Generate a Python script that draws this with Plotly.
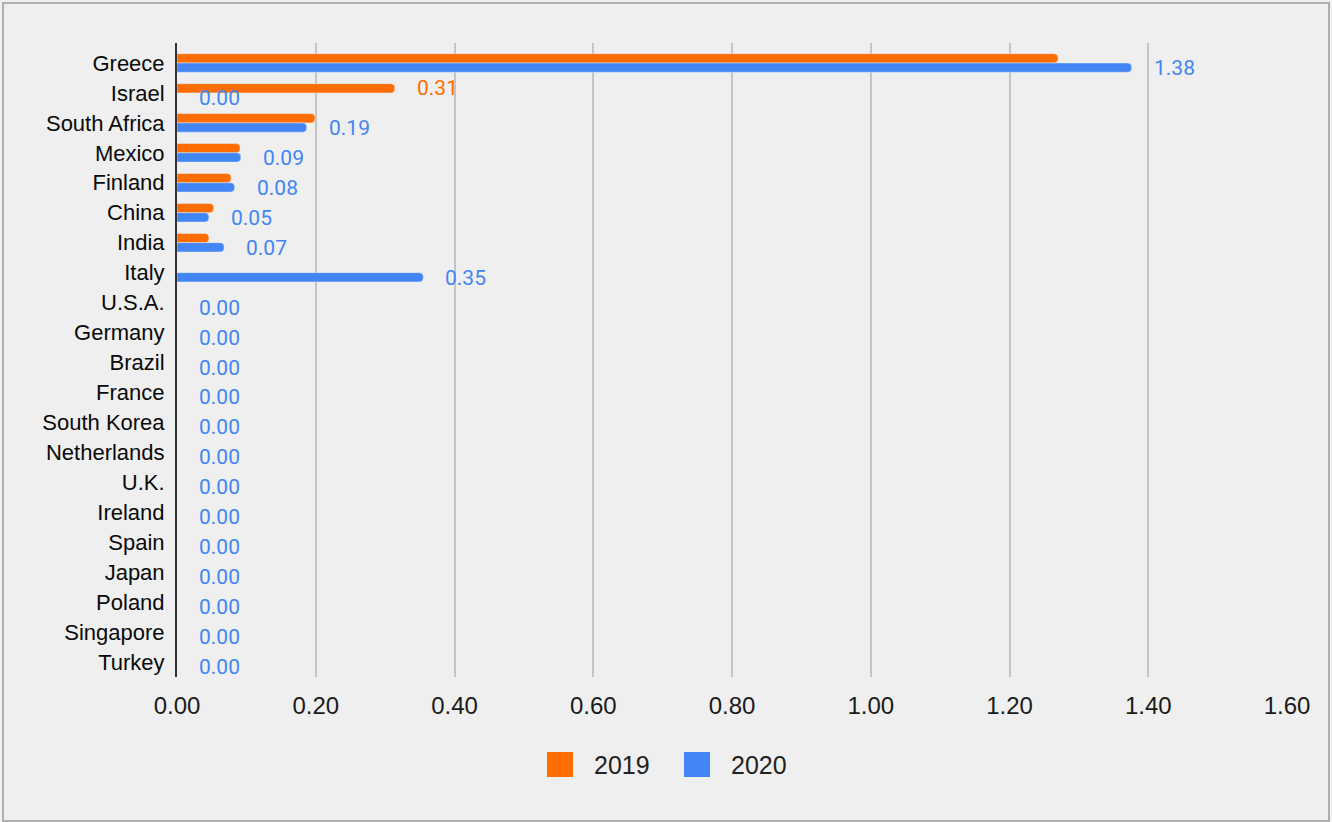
import plotly.graph_objects as go

countries = ["Greece", "Israel", "South Africa", "Mexico", "Finland", "China", "India",
             "Italy", "U.S.A.", "Germany", "Brazil", "France", "South Korea", "Netherlands",
             "U.K.", "Ireland", "Spain", "Japan", "Poland", "Singapore", "Turkey"]
v2019 = [1.27, 0.314, 0.199, 0.091, 0.078, 0.053, 0.046, 0, 0, 0, 0, 0, 0, 0, 0, 0, 0, 0, 0, 0, 0]
v2020 = [1.376, 0, 0.187, 0.092, 0.083, 0.046, 0.068, 0.355, 0, 0, 0, 0, 0, 0, 0, 0, 0, 0, 0, 0, 0]
labelled2019 = ["Israel"]
series_names = ["2019", "2020"]
x_ticks = [0, 0.2, 0.4, 0.6, 0.8, 1.0, 1.2, 1.4, 1.6]

ORANGE = "#ff6d01"
BLUE = "#4285f4"
SANS = "Liberation Sans, Arial, sans-serif"
LBL = "Roboto, Arial, sans-serif"

fig = go.Figure()
fig.add_trace(go.Bar(name=series_names[0], y=countries, x=v2019, orientation="h",
                     marker=dict(color=ORANGE, cornerradius=4), showlegend=False))
fig.add_trace(go.Bar(name=series_names[1], y=countries, x=v2020, orientation="h",
                     marker=dict(color=BLUE, cornerradius=4), showlegend=False))

anns = []
for c, a, b in zip(countries, v2019, v2020):
    if c in labelled2019:
        anns.append(dict(x=a, y=c, text=f"{a:.2f}", showarrow=False, xanchor="left",
                         xshift=20, yshift=4.5, font=dict(color=ORANGE, size=21, family=LBL)))
    anns.append(dict(x=b, y=c, text=f"{b:.2f}", showarrow=False, xanchor="left",
                     xshift=20, yshift=-5, font=dict(color=BLUE, size=21, family=LBL)))

# plot area geometry (pixels) used to place the custom legend and border in paper coords
L, R, T, B = 177, 1287, 43, 677
PW, PH = R - L, B - T

def px(x):
    return (x - L) / PW

def py(y):
    return (B - y) / PH

shapes = [dict(type="rect", xref="paper", yref="paper",
               x0=px(3), x1=px(1329), y0=py(821), y1=py(3),
               line=dict(color="#9a9a9a", width=1.5), fillcolor="rgba(0,0,0,0)")]

# custom legend (large square swatches)
legend_items = [(series_names[0], ORANGE, 547, 592), (series_names[1], BLUE, 684, 729)]
for name, col, sx, tx in legend_items:
    shapes.append(dict(type="rect", xref="paper", yref="paper",
                       x0=px(sx), x1=px(sx + 26), y0=py(777), y1=py(752),
                       line=dict(width=0), fillcolor=col))
    anns.append(dict(xref="paper", yref="paper", x=px(tx), y=py(765), text=name,
                     showarrow=False, xanchor="left", yanchor="middle",
                     font=dict(size=25, family=SANS, color="#222222")))

n = len(countries)
fig.update_layout(
    width=1332, height=822,
    margin=dict(l=L, r=1332 - R, t=T, b=822 - B),
    paper_bgcolor="#efefef", plot_bgcolor="#efefef",
    barmode="group", bargap=0.38, bargroupgap=0,
    font=dict(family=SANS, color="#222222"),
    annotations=anns,
    shapes=shapes,
    showlegend=False,
    xaxis=dict(range=[0, 1.6], tickvals=x_ticks, tickformat=".2f", showgrid=True,
               gridcolor="#c4c4c4", gridwidth=2, zeroline=False, showline=False,
               tickfont=dict(size=24, family=SANS, color="#1a1a1a"), ticklabelstandoff=12),
    yaxis=dict(categoryorder="array", categoryarray=countries,
               range=[n - 0.5, -0.667], showgrid=False, zeroline=False,
               showline=True, linecolor="#333333", linewidth=2,
               tickfont=dict(size=22, family=SANS, color="#0a0a0a"), ticklabelstandoff=6),
)

fig.write_html("out.html")
